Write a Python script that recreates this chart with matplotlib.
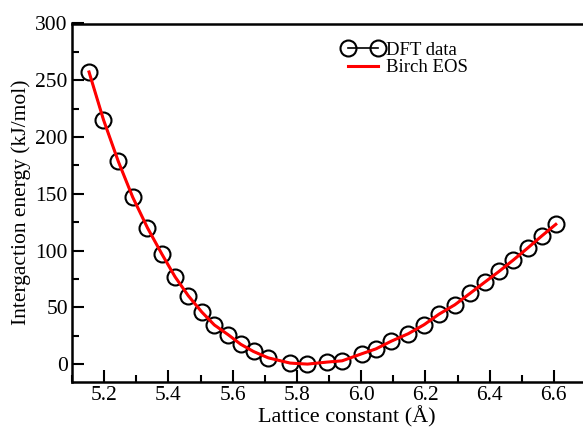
import matplotlib
matplotlib.use('Agg')
import matplotlib.pyplot as plt
from matplotlib.ticker import MultipleLocator

# lattice constant (A) and interaction energy (kJ/mol)
lattice = [5.153, 5.198, 5.244, 5.289, 5.335, 5.380, 5.421, 5.462, 5.504, 5.543,
           5.587, 5.625, 5.665, 5.711, 5.779, 5.833, 5.895, 5.941, 6.004, 6.046,
           6.094, 6.147, 6.196, 6.242, 6.292, 6.339, 6.385, 6.430, 6.473, 6.520,
           6.562, 6.606]
energy = [257.3, 215.2, 178.6, 147.0, 120.0, 96.8, 76.8, 60.2, 45.9, 34.5,
          25.7, 17.5, 11.1, 5.5, 0.9, 0.0, 1.8, 2.9, 9.3, 13.4,
          20.2, 26.8, 34.7, 43.9, 52.3, 62.3, 72.2, 81.8, 91.5, 102.6,
          112.8, 123.1]

plt.rcParams['font.family'] = ['Liberation Serif', 'DejaVu Serif']

fig = plt.figure(figsize=(5.83, 4.29), dpi=100)
# the original frame runs just past the right edge of the picture
ax = fig.add_axes([72 / 583, 1 - 381.7 / 429, 514 / 583, 358.2 / 429])

ax.plot(lattice, energy, color='black', lw=1.2, marker='o', ms=11.5,
        mfc='none', mec='black', mew=1.5, label='DFT data')
ax.plot(lattice, energy, color='red', lw=2.2, label='Birch EOS')

ax.set_xlim(5.1, 6.7)
ax.set_ylim(-15.5, 300)
ax.xaxis.set_major_locator(MultipleLocator(0.2))
ax.xaxis.set_minor_locator(MultipleLocator(0.1))
ax.yaxis.set_major_locator(MultipleLocator(50))
ax.yaxis.set_minor_locator(MultipleLocator(25))
ax.xaxis.set_major_formatter(plt.FormatStrFormatter('%.1f'))
ax.tick_params(which='both', direction='in', top=False, right=False,
               width=1.5, labelsize=15.5)
ax.tick_params(which='major', length=8.5, pad=3)
ax.tick_params(which='minor', length=5)
for s in ax.spines.values():
    s.set_linewidth(1.8)

ax.set_xlabel('Lattice constant (Å)', fontsize=16, x=0.535, labelpad=1)
ax.set_ylabel('Intergaction energy (kJ/mol)', fontsize=15.5, labelpad=3)

ax.legend(loc='upper left', bbox_to_anchor=(0.508, 0.975), frameon=False,
          fontsize=13.5, numpoints=2, handlelength=2.2, handletextpad=0.1,
          labelspacing=0.0, borderpad=0)

fig.savefig('out.png', dpi=100)
